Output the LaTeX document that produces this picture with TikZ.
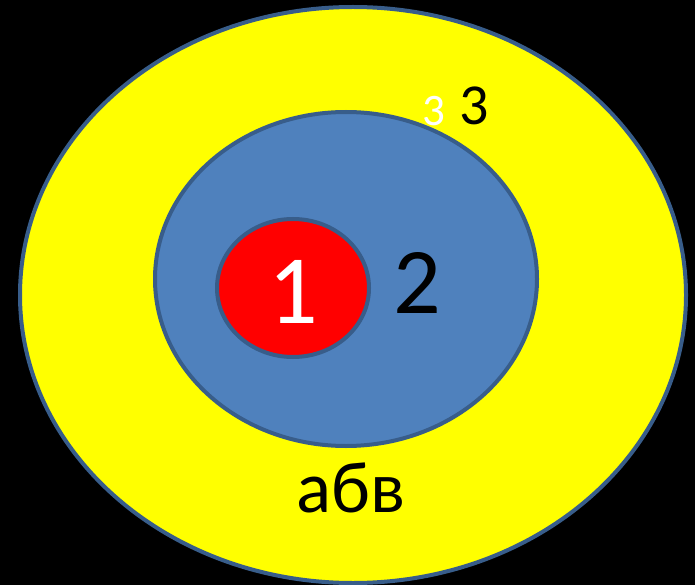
\documentclass[tikz,border=0pt]{standalone}
\usepackage{fontspec}
\setmainfont{Carlito}
\usetikzlibrary{shapes.geometric}
\definecolor{ringline}{HTML}{385D8A}
\definecolor{midblue}{HTML}{4F81BD}
\definecolor{puryellow}{HTML}{FFFF00}
\definecolor{purred}{HTML}{FF0000}
\tikzset{
  ring/.style={ellipse, draw=ringline, line width=4pt, inner sep=0pt},
  lbl/.style={anchor=base, inner sep=0pt}
}
\begin{document}
\begin{tikzpicture}[x=1pt,y=-1pt]
  \fill[black] (0,0) rectangle (695,585);
  \useasboundingbox (0,0) rectangle (695,585);
  \node[ring, fill=puryellow, minimum width=666pt, minimum height=576pt] (outer) at (353,295) {};
  \node[ring, fill=midblue, minimum width=382pt, minimum height=334pt] (middle) at (346,279) {};
  \node[ring, fill=purred, minimum width=152pt, minimum height=138pt] (inner) at (293,288) {};
  \node[lbl, text=white, font=\fontsize{98}{98}\selectfont] (one) at (293,323) {1};
  \node[lbl, text=black, font=\fontsize{94}{94}\selectfont] (two) at (417,313) {2};
  \node[lbl, text=black, font=\fontsize{58}{58}\selectfont] (threeb) at (474,125) {3};
  \node[lbl, text=white, font=\fontsize{45}{45}\selectfont] (threew) at (434,126) {3};
  \node[lbl, text=black, font=\fontsize{73}{73}\selectfont] (abv) at (351,512) {абв};
\end{tikzpicture}
\end{document}
